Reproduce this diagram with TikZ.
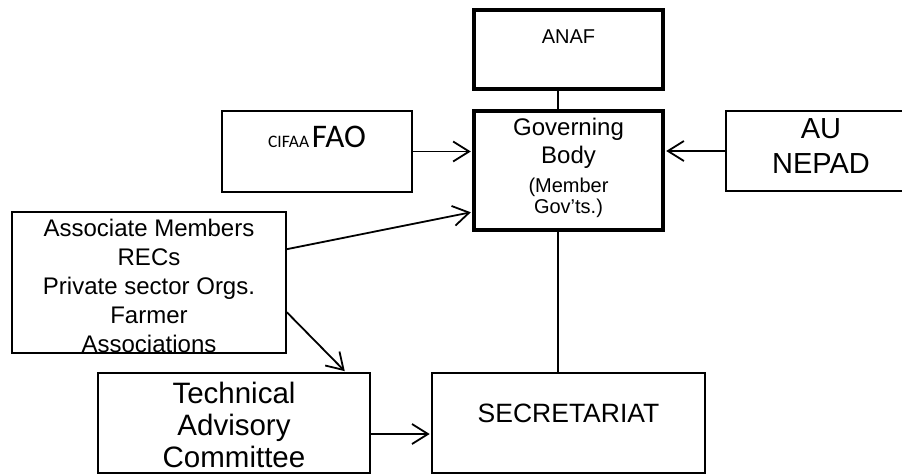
\documentclass[tikz,border=0pt]{standalone}
\usepackage{fontspec}
\setmainfont{Liberation Sans}
\newfontfamily\carlito{Carlito}
\usetikzlibrary{arrows.meta}
\tikzset{
  box/.style={draw, line width=1.6pt, inner sep=0pt, anchor=base, align=center},
  heavybox/.style={box, line width=3.4pt},
  link/.style={line width=1.8pt},
  arrow/.style={link, shorten >=1.5pt, -{Straight Barb[length=16pt,width=20pt]}}
}
\begin{document}
\begin{tikzpicture}[x=1pt, y=-1pt]
      \useasboundingbox (0,0) rectangle (902,474);
      \clip (0,0) rectangle (902,474);
      \path
        (568.5,43) node[heavybox, minimum width=189pt, text height=33pt, text depth=46pt,
          font=\fontsize{20}{24}\selectfont] (anaf){ANAF}
        (568.5,213) node[heavybox, minimum width=189pt, text height=102pt, text depth=17pt,
          font=\fontsize{24}{28}\selectfont] (gov){Governing\\Body\\[1pt]\fontsize{20}{22}\selectfont (Member\\[-7pt]\fontsize{20}{22}\selectfont Gov’ts.)}
        (317,147) node[box, minimum width=190pt, text height=36pt, text depth=45pt] (fao)
          {{\carlito\fontsize{17.5}{20}\selectfont CIFAA} {\carlito\fontsize{33}{38}\selectfont FAO}}
        (821,173) node[box, minimum width=190pt, text height=62pt, text depth=18pt,
          font=\fontsize{29}{35}\selectfont] (au){AU\\NEPAD}
        (149,352) node[box, minimum width=274pt, text height=140pt, text depth=1pt,
          font=\fontsize{24}{29}\selectfont] (assoc){Associate Members\\RECs\\Private sector Orgs.\\Farmer\\Associations}
        (234,467) node[box, minimum width=272pt, text height=94pt, text depth=6pt,
          font=\fontsize{29.5}{32}\selectfont] (tac){Technical\\Advisory\\Committee}
        (568.5,422) node[box, minimum width=273pt, text height=49pt, text depth=51pt,
          font=\fontsize{26.5}{30}\selectfont] (sec){SECRETARIAT};
      \coordinate (spine) at (558,0);
      \begin{scope}[link]
        \draw (anaf.south -| spine) to (gov.north -| spine);
        \draw (gov.south -| spine) to (sec.north -| spine);
      \end{scope}
      \begin{scope}[arrow]
        \draw (fao.east) to (fao.east -| gov.west);
        \draw (au.west) to (au.west -| gov.east);
        \draw ([yshift=-38pt]assoc.north east) to ([yshift=-41.5pt]gov.west);
        \draw ([yshift=-101pt]assoc.north east) to ([xshift=-25pt]tac.north east);
        \draw ([yshift=-11pt]tac.east) to ([yshift=-11pt]tac.east -| sec.west);
      \end{scope}
    \end{tikzpicture}
\end{document}
